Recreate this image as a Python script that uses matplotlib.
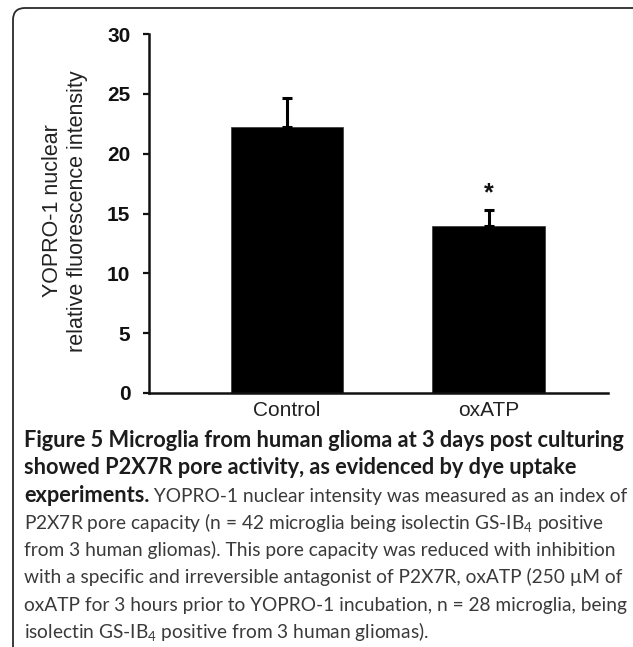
import matplotlib
matplotlib.use('Agg')
import matplotlib.pyplot as plt
from matplotlib.patches import FancyBboxPatch
from matplotlib.transforms import IdentityTransform

# ---------------- data ----------------
categories = ['Control', 'oxATP']
means = [22.2, 13.95]
errors = [2.45, 1.35]
significance = ['', '*']
yticks = [0, 5, 10, 15, 20, 25, 30]
ylabel_lines = ['YOPRO-1 nuclear', 'relative fluorescence intensity']

caption_bold_lines = ['Figure 5 Microglia from human glioma at 3 days post culturing',
                      'showed P2X7R pore activity, as evidenced by dye uptake']
caption_mixed_bold = 'experiments.'
caption_mixed_regular = ' YOPRO-1 nuclear intensity was measured as an index of'
caption_regular_lines = ['P2X7R pore capacity (n = 42 microglia being isolectin GS-IB$_4$ positive',
                         'from 3 human gliomas). This pore capacity was reduced with inhibition',
                         'with a specific and irreversible antagonist of P2X7R, oxATP (250 µM of',
                         'oxATP for 3 hours prior to YOPRO-1 incubation, n = 28 microglia, being',
                         'isolectin GS-IB$_4$ positive from 3 human gliomas).']

# ---------------- figure ----------------
W, H = 633, 647
DPI = 100
plt.rcParams['mathtext.fontset'] = 'custom'
plt.rcParams['mathtext.rm'] = 'Lato'
plt.rcParams['mathtext.it'] = 'Lato'
fig = plt.figure(figsize=(W / DPI, H / DPI), dpi=DPI)
fig.patch.set_facecolor('white')

# rounded frame (display pixel coords)
frame = FancyBboxPatch((13, -30), 633, H - 8 + 30,
                       boxstyle='round,pad=0,rounding_size=12',
                       transform=IdentityTransform(), facecolor='none',
                       edgecolor='#2a2a2a', linewidth=1.3)
fig.add_artist(frame)

# axes
ax_left, ax_right, ax_top, ax_bottom = 149, 608, 34, 393
ax = fig.add_axes([ax_left / W, 1 - ax_bottom / H, (ax_right - ax_left) / W, (ax_bottom - ax_top) / H])
x = list(range(len(categories)))
ax.bar(x, means, width=0.56, color='black', edgecolor='#333333', linewidth=0.5, zorder=2)
ax.errorbar(x, means, yerr=[[0] * len(errors), errors], fmt='none', ecolor='black',
            elinewidth=2.2, capsize=3.5, capthick=2.2, zorder=3)
for xi, m, e, s in zip(x, means, errors, significance):
    if s:
        ax.text(xi, m + e + 0.35, s, ha='center', va='bottom', fontsize=18,
                fontweight='bold', family='Liberation Sans', color='#111111')

ax.set_xlim(-0.685, 1.593)
ax.set_ylim(0, 30)
ax.set_yticks(yticks)
ax.set_yticklabels([str(t) for t in yticks], fontsize=15, fontweight='bold',
                   family='Liberation Sans', color='#111111')
ax.set_xticks(x)
ax.set_xticklabels(categories, fontsize=15, family='Liberation Sans', color='#222222')
ax.tick_params(axis='y', direction='out', length=4.5, width=1.6, pad=9, colors='#111111')
ax.tick_params(axis='x', length=0, pad=6)
for sp in ['top', 'right']:
    ax.spines[sp].set_visible(False)
for sp in ['left', 'bottom']:
    ax.spines[sp].set_linewidth(1.8)
    ax.spines[sp].set_color('#111111')

fig.text(65 / W, 1 - 211 / H, '\n'.join(ylabel_lines), rotation=90, ha='center', va='center',
         fontsize=15.5, family='Liberation Sans', color='#222222', linespacing=1.25,
         multialignment='center')

# ---------------- caption ----------------
renderer = fig.canvas.get_renderer()

def text_width(s, **kw):
    t = fig.text(0, 0, s, **kw)
    w = t.get_window_extent(renderer=renderer).width
    t.remove()
    return w

bold_kw = dict(family='Lato', fontweight='bold')
reg_kw = dict(family='Lato')
x0 = 24
w10 = text_width(caption_bold_lines[0], fontsize=10, **bold_kw)
bold_size = 10 * 601 / w10
# fit regular size so the widest regular line ends near x = 628
wb_mixed = text_width(caption_mixed_bold, fontsize=bold_size, **bold_kw)
cands = [(s, 0.0) for s in caption_regular_lines] + [(caption_mixed_regular, wb_mixed)]
reg_size = min(10 * (628 - x0 - off) / text_width(s, fontsize=10, **reg_kw) for s, off in cands)

base0 = 447
step = 27.3
bold_color = '#1c1c1c'
reg_color = '#3a3a3a'
lines_y = [base0 + i * step for i in range(8)]

for i, s in enumerate(caption_bold_lines):
    fig.text(x0 / W, 1 - lines_y[i] / H, s, fontsize=bold_size, color=bold_color,
             va='baseline', ha='left', **bold_kw)
i = len(caption_bold_lines)
tb = fig.text(x0 / W, 1 - lines_y[i] / H, caption_mixed_bold, fontsize=bold_size,
              color=bold_color, va='baseline', ha='left', **bold_kw)
wb = tb.get_window_extent(renderer=renderer).width
fig.text((x0 + wb) / W, 1 - lines_y[i] / H, caption_mixed_regular, fontsize=reg_size,
         color=reg_color, va='baseline', ha='left', **reg_kw)
for j, s in enumerate(caption_regular_lines):
    fig.text(x0 / W, 1 - lines_y[i + 1 + j] / H, s, fontsize=reg_size, color=reg_color,
             va='baseline', ha='left', **reg_kw)

fig.savefig('out.png', dpi=DPI, facecolor='white')
